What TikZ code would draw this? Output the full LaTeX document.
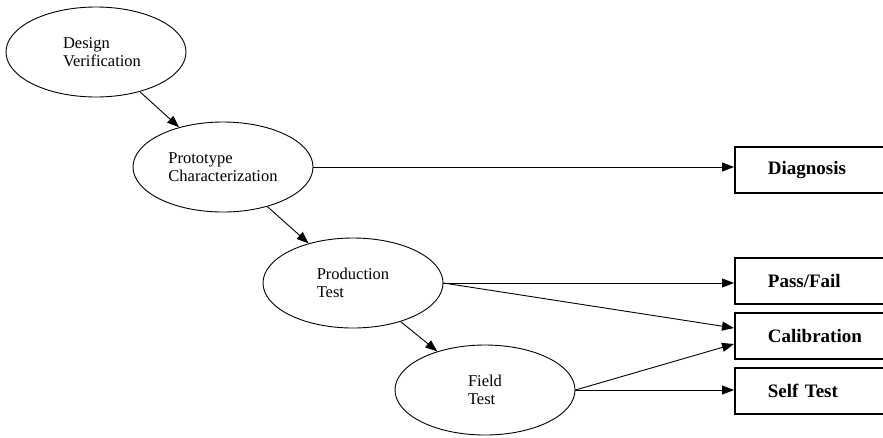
\documentclass[tikz,border=0pt]{standalone}
\usepackage{fontspec}
\setmainfont{Liberation Serif}
\usetikzlibrary{arrows.meta,calc,shapes.geometric}
\tikzset{
  stage/.style={draw, line width=0.9pt, ellipse, minimum width=180pt, minimum height=90pt, inner sep=0pt, align=left, font=\fontsize{16.5}{18}\selectfont},
  outbox/.style={draw, line width=1.8pt, rectangle, anchor=west, minimum height=46pt, text width=110pt, inner xsep=33pt, align=left, font=\bfseries\fontsize{19}{21}\selectfont},
  flow/.style={line width=0.9pt, -{Triangle[length=12pt,width=9pt]}}
}
\begin{document}
\begin{tikzpicture}[x=1pt,y=-1pt]
\useasboundingbox (0,0) rectangle (883,437);
\clip (0,0) rectangle (883,437);
\node[stage] (dv) at (96,52) {\hspace*{12pt}Design\\\hspace*{12pt}Verification};
\node[stage] (pc) at (223,167) {Prototype\\Characterization};
\node[stage] (pt) at (353,283) {Production\\Test};
\node[stage] (ft) at (485,390) {Field\\Test};
\node[outbox] (dg) at (734,170) {Diagnosis};
\node[outbox] (pf) at (734,281) {Pass/Fail};
\node[outbox] (cb) at (734,336) {Calibration};
\node[outbox] (st) at (734,391) {Self Test};
\coordinate (cbA) at ($(cb.west)+(0,-8)$);
\coordinate (cbB) at ($(cb.west)+(0,8)$);
\draw[flow] (dv) -- (pc);
\draw[flow] (pc) -- (pt);
\draw[flow] (pt) -- (ft);
\draw[flow] (pc.east) -- (pc.east -| dg.west);
\draw[flow] (pt.east) -- (pt.east -| pf.west);
\draw[flow] (pt.east) -- (cbA);
\draw[flow] (ft.east) -- (cbB);
\draw[flow] (ft.east) -- (ft.east -| st.west);
\end{tikzpicture}
\end{document}
